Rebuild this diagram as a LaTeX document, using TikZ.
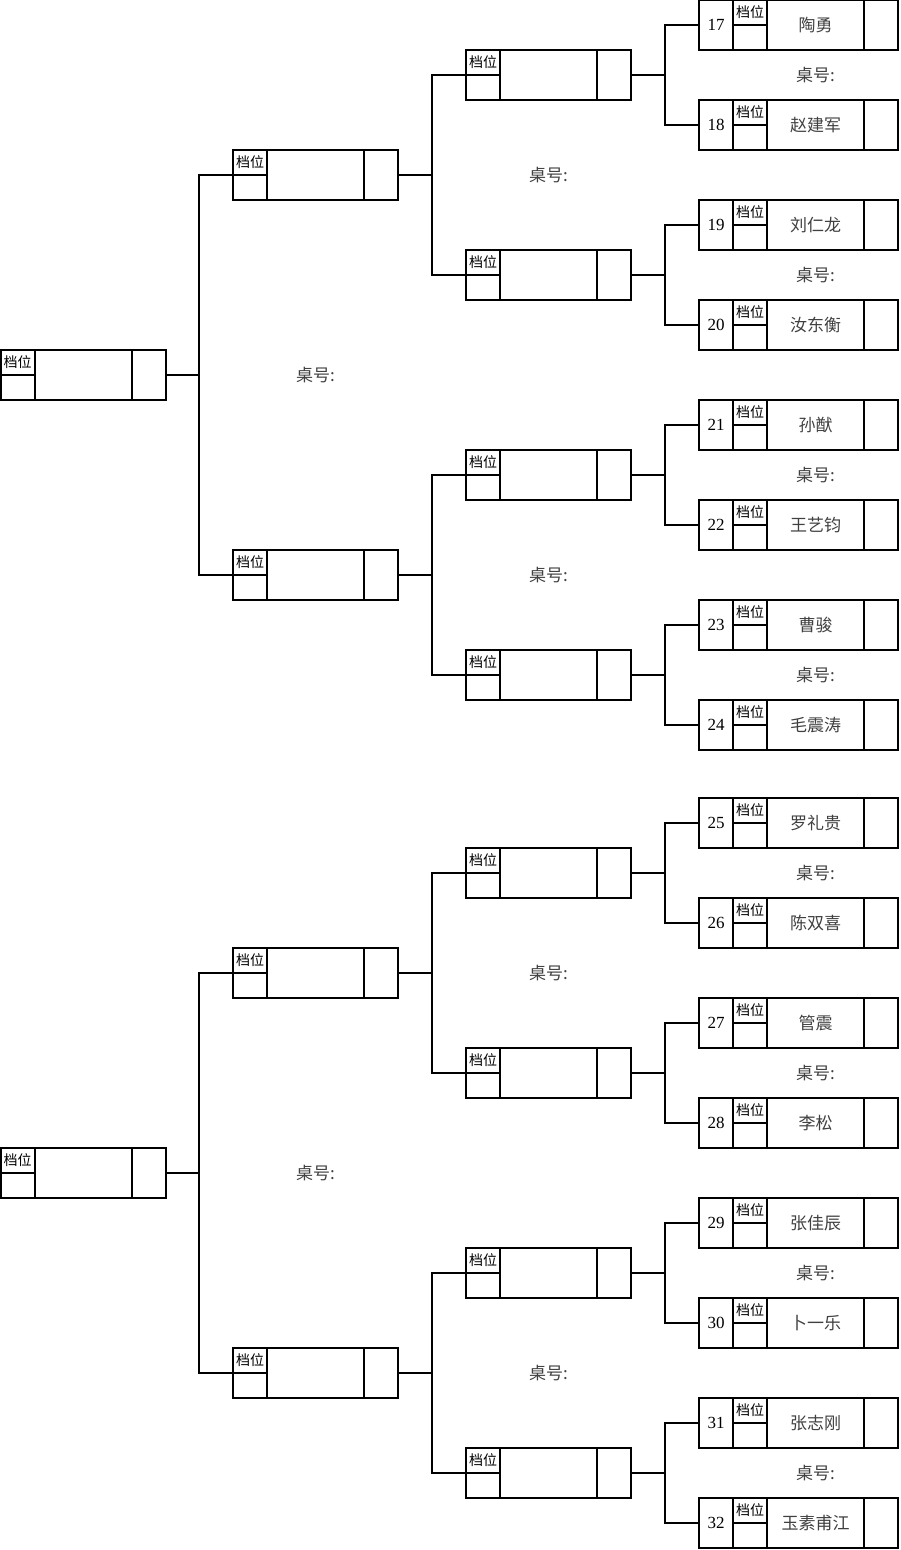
\documentclass[tikz,border=0pt]{standalone}
\usepackage{fontspec}
\setmainfont{Liberation Serif}
\newfontfamily\cjk{Noto Sans CJK SC}
\usetikzlibrary{positioning,calc}

\tikzset{
  cell/.style={draw, line width=2pt, inner sep=0pt, outer sep=0pt},
  gradecell/.style={cell, minimum width=34pt, minimum height=25pt, font=\cjk\fontsize{14}{14}\selectfont},
  sidecell/.style={cell, minimum width=34pt, minimum height=50pt, font=\fontsize{17}{17}\selectfont},
  player/.style={inner sep=0pt, text=black!75, font=\cjk\fontsize{17}{17}\selectfont},
  tablelabel/.style={inner sep=0pt, text=black!75, font=\cjk\fontsize{17}{17}\selectfont},
  link/.style={line width=2pt}
}

% leaf box: id, top y, seat number, player name
\newcommand{\leafbox}[4]{%
  \node[cell, minimum width=199pt, minimum height=50pt, anchor=north west] (#1) at (699,#2) {};
  \node[sidecell, anchor=north west] (#1n) at (#1.north west) {#3};
  \node[gradecell, anchor=north west] (#1d) at (#1n.north east) {档位};
  \node[gradecell, anchor=north] (#1b) at (#1d.south) {};
  \node[sidecell, anchor=north east] (#1e) at (#1.north east) {};
  \node[player] (#1m) at ($(#1d.north east)!.5!(#1e.south west)$) {#4};
}
% match box: id, left x, top y
\newcommand{\matchbox}[3]{%
  \node[cell, minimum width=165pt, minimum height=50pt, anchor=north west] (#1) at (#2,#3) {};
  \node[gradecell, anchor=north west] (#1d) at (#1.north west) {档位};
  \node[gradecell, anchor=north] (#1b) at (#1d.south) {};
  \node[sidecell, anchor=north east] (#1e) at (#1.north east) {};
}

\begin{document}
\begin{tikzpicture}[x=1pt, y=-1pt]
\useasboundingbox (0,0) rectangle (900,1550);

% upper half
\leafbox{p17}{0}{17}{陶勇}
\leafbox{p18}{100}{18}{赵建军}
\leafbox{p19}{200}{19}{刘仁龙}
\leafbox{p20}{300}{20}{汝东衡}
\leafbox{p21}{400}{21}{孙猷}
\leafbox{p22}{500}{22}{王艺钧}
\leafbox{p23}{600}{23}{曹骏}
\leafbox{p24}{700}{24}{毛震涛}
\matchbox{q1}{466}{50}
\matchbox{q2}{466}{250}
\matchbox{q3}{466}{450}
\matchbox{q4}{466}{650}
\matchbox{r1}{233}{150}
\matchbox{r2}{233}{550}
\matchbox{s1}{0.5}{350}

% lower half
\leafbox{p25}{798}{25}{罗礼贵}
\leafbox{p26}{898}{26}{陈双喜}
\leafbox{p27}{998}{27}{管震}
\leafbox{p28}{1098}{28}{李松}
\leafbox{p29}{1198}{29}{张佳辰}
\leafbox{p30}{1298}{30}{卜一乐}
\leafbox{p31}{1398}{31}{张志刚}
\leafbox{p32}{1498}{32}{玉素甫江}
\matchbox{q5}{466}{848}
\matchbox{q6}{466}{1048}
\matchbox{q7}{466}{1248}
\matchbox{q8}{466}{1448}
\matchbox{r3}{233}{948}
\matchbox{r4}{233}{1348}
\matchbox{s2}{0.5}{1148}

% table labels
\node[tablelabel] (t1) at ($(p17m)!.5!(p18m)$) {桌号:};
\node[tablelabel] (t2) at ($(p19m)!.5!(p20m)$) {桌号:};
\node[tablelabel] (t3) at ($(p21m)!.5!(p22m)$) {桌号:};
\node[tablelabel] (t4) at ($(p23m)!.5!(p24m)$) {桌号:};
\node[tablelabel] (t5) at ($(p25m)!.5!(p26m)$) {桌号:};
\node[tablelabel] (t6) at ($(p27m)!.5!(p28m)$) {桌号:};
\node[tablelabel] (t7) at ($(p29m)!.5!(p30m)$) {桌号:};
\node[tablelabel] (t8) at ($(p31m)!.5!(p32m)$) {桌号:};
\node[tablelabel] (u1) at ($(q1)!.5!(q2)$) {桌号:};
\node[tablelabel] (u2) at ($(q3)!.5!(q4)$) {桌号:};
\node[tablelabel] (u3) at ($(q5)!.5!(q6)$) {桌号:};
\node[tablelabel] (u4) at ($(q7)!.5!(q8)$) {桌号:};
\node[tablelabel] (v1) at ($(r1)!.5!(r2)$) {桌号:};
\node[tablelabel] (v2) at ($(r3)!.5!(r4)$) {桌号:};

% connectors
\draw[link] (p17.west) -- ++(-34,0) |- (q1.east);
\draw[link] (p18.west) -- ++(-34,0) |- (q1.east);
\draw[link] (p19.west) -- ++(-34,0) |- (q2.east);
\draw[link] (p20.west) -- ++(-34,0) |- (q2.east);
\draw[link] (p21.west) -- ++(-34,0) |- (q3.east);
\draw[link] (p22.west) -- ++(-34,0) |- (q3.east);
\draw[link] (p23.west) -- ++(-34,0) |- (q4.east);
\draw[link] (p24.west) -- ++(-34,0) |- (q4.east);
\draw[link] (q1.west) -- ++(-34,0) |- (r1.east);
\draw[link] (q2.west) -- ++(-34,0) |- (r1.east);
\draw[link] (q3.west) -- ++(-34,0) |- (r2.east);
\draw[link] (q4.west) -- ++(-34,0) |- (r2.east);
\draw[link] (r1.west) -- ++(-34,0) |- (s1.east);
\draw[link] (r2.west) -- ++(-34,0) |- (s1.east);
\draw[link] (p25.west) -- ++(-34,0) |- (q5.east);
\draw[link] (p26.west) -- ++(-34,0) |- (q5.east);
\draw[link] (p27.west) -- ++(-34,0) |- (q6.east);
\draw[link] (p28.west) -- ++(-34,0) |- (q6.east);
\draw[link] (p29.west) -- ++(-34,0) |- (q7.east);
\draw[link] (p30.west) -- ++(-34,0) |- (q7.east);
\draw[link] (p31.west) -- ++(-34,0) |- (q8.east);
\draw[link] (p32.west) -- ++(-34,0) |- (q8.east);
\draw[link] (q5.west) -- ++(-34,0) |- (r3.east);
\draw[link] (q6.west) -- ++(-34,0) |- (r3.east);
\draw[link] (q7.west) -- ++(-34,0) |- (r4.east);
\draw[link] (q8.west) -- ++(-34,0) |- (r4.east);
\draw[link] (r3.west) -- ++(-34,0) |- (s2.east);
\draw[link] (r4.west) -- ++(-34,0) |- (s2.east);
\end{tikzpicture}
\end{document}
